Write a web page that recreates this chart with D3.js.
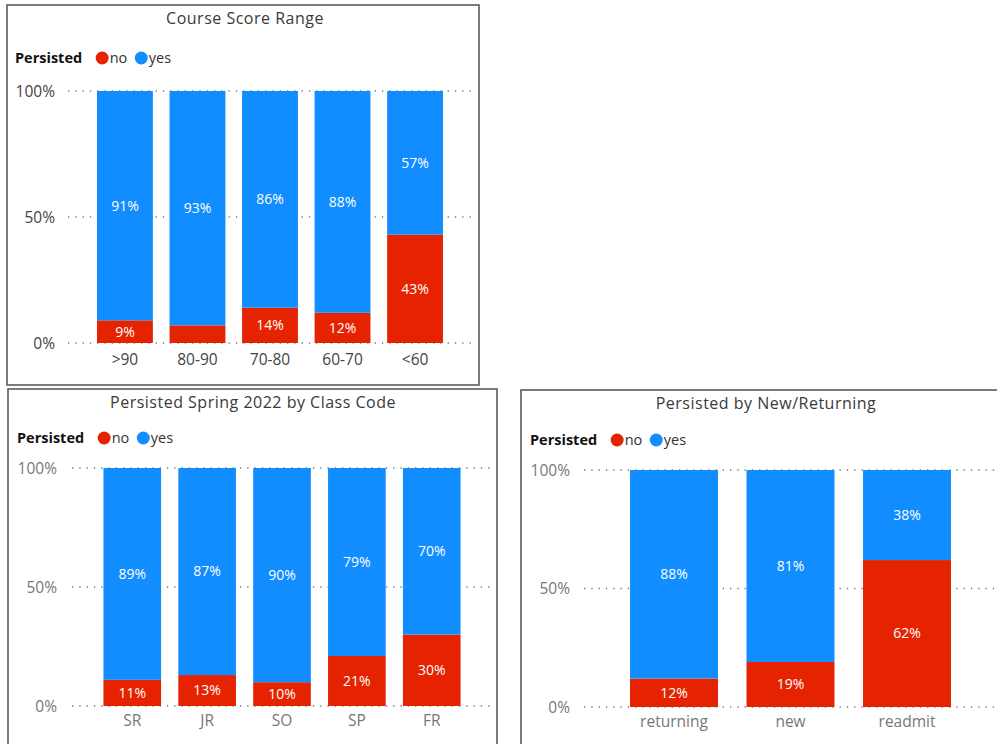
<!DOCTYPE html>
<html>
<head>
<meta charset="utf-8">
<script src="https://cdn.jsdelivr.net/npm/d3@7"></script>
<style>
  html, body { margin: 0; padding: 0; background: #fff; }
  svg { display: block; }
</style>
</head>
<body>
<svg id="chart" width="997" height="744"></svg>
<script>
// ---- data ----
const scoreCategories = [">90", "80-90", "70-80", "60-70", "<60"];
const scoreNo  = [9, 7, 14, 12, 43];
const scoreYes = [91, 93, 86, 88, 57];

const classCategories = ["SR", "JR", "SO", "SP", "FR"];
const classNo  = [11, 13, 10, 21, 30];
const classYes = [89, 87, 90, 79, 70];

const statusCategories = ["returning", "new", "readmit"];
const statusNo  = [12, 19, 62];
const statusYes = [88, 81, 38];

const yTicks = [0, 50, 100];
const seriesNames = ["no", "yes"];
const seriesColors = { no: "#E62300", yes: "#118DFF" };

const svg = d3.select("#chart");
const FONT = "'Open Sans', 'Noto Sans', sans-serif";

// One 100% stacked column visual
function drawPanel(opt) {
  const g = svg.append("g");

  // frame
  g.append("rect")
    .attr("x", opt.box[0]).attr("y", opt.box[1])
    .attr("width", opt.box[2]).attr("height", opt.box[3])
    .attr("fill", "#fff").attr("stroke", "#5a5a5a").attr("stroke-width", 1.6);

  // title
  g.append("text")
    .attr("x", opt.titleX).attr("y", opt.titleY)
    .attr("text-anchor", "middle")
    .attr("font-family", FONT)
    .attr("font-size", 16).attr("letter-spacing", 0.5).attr("fill", "#3a3a3a")
    .text(opt.title);

  // legend
  const lg = g.append("g").attr("transform", `translate(${opt.legendX},${opt.legendY})`);
  const lt = lg.append("text")
    .attr("x", 0).attr("y", 5)
    .attr("font-family", FONT).attr("font-weight", 700)
    .attr("font-size", 14.5).attr("fill", "#111")
    .text("Persisted");
  let lx = lt.node().getComputedTextLength() + 20;
  seriesNames.forEach(name => {
    lg.append("circle").attr("cx", lx).attr("cy", 0).attr("r", 6.5)
      .attr("fill", seriesColors[name]);
    const t = lg.append("text")
      .attr("x", lx + 7.5).attr("y", 5)
      .attr("font-family", FONT).attr("font-size", 14.5).attr("fill", "#333")
      .text(name);
    lx += 7.5 + t.node().getComputedTextLength() + 14;
  });

  // scales
  const x = d3.scaleBand()
    .domain(opt.categories)
    .range([opt.gridX0, opt.gridX1])
    .paddingInner(opt.padInner)
    .paddingOuter(opt.padOuter);
  const y = d3.scaleLinear().domain([0, 100]).range([opt.yBottom, opt.yTop]);

  // dotted gridlines
  g.append("g").selectAll("line").data(yTicks).join("line")
    .attr("x1", opt.gridX0).attr("x2", opt.gridX1)
    .attr("y1", d => y(d)).attr("y2", d => y(d))
    .attr("stroke", "#777").attr("stroke-width", 1.3)
    .attr("stroke-dasharray", "1.3,6");

  // y axis labels
  const yAxis = d3.axisLeft(y).tickValues(yTicks).tickSize(0).tickFormat(d => d + "%");
  const ya = g.append("g").attr("transform", `translate(${opt.yLabelX},0)`).call(yAxis);
  ya.select(".domain").remove();
  ya.selectAll("text")
    .attr("x", 0).attr("dy", "0.35em")
    .attr("font-family", FONT).attr("font-size", 15.5).attr("fill", opt.axisColor);

  // x axis labels
  const xAxis = d3.axisBottom(x).tickSize(0);
  const xa = g.append("g").attr("transform", `translate(0,${opt.yBottom})`).call(xAxis);
  xa.select(".domain").remove();
  xa.selectAll("text")
    .attr("y", opt.xLabelDy)
    .attr("font-family", FONT).attr("font-size", 15.5).attr("fill", opt.axisColor);

  // stacked segments
  const rows = opt.categories.map((c, i) => ({ cat: c, no: opt.no[i], yes: opt.yes[i] }));
  const stack = d3.stack().keys(seriesNames)(rows);

  stack.forEach(layer => {
    const key = layer.key;
    g.append("g").selectAll("rect").data(layer).join("rect")
      .attr("x", d => x(d.data.cat))
      .attr("width", x.bandwidth())
      .attr("y", d => y(d[1]))
      .attr("height", d => y(d[0]) - y(d[1]))
      .attr("fill", seriesColors[key]);

    g.append("g").selectAll("text")
      .data(layer.filter(d => y(d[0]) - y(d[1]) >= 20))
      .join("text")
      .attr("x", d => x(d.data.cat) + x.bandwidth() / 2)
      .attr("y", d => (y(d[0]) + y(d[1])) / 2)
      .attr("dy", "0.35em")
      .attr("text-anchor", "middle")
      .attr("font-family", FONT).attr("font-size", 14).attr("fill", "#fff")
      .text(d => d.data[key] + "%");
  });
}

drawPanel({
  title: "Course Score Range",
  categories: scoreCategories, no: scoreNo, yes: scoreYes,
  box: [7, 5, 472, 380], titleX: 245, titleY: 24,
  legendX: 15, legendY: 58,
  yTop: 91, yBottom: 343, yLabelX: 55,
  gridX0: 68, gridX1: 472, padInner: 0.23, padOuter: 0.4,
  axisColor: "#444", xLabelDy: 11
});

drawPanel({
  title: "Persisted Spring 2022 by Class Code",
  categories: classCategories, no: classNo, yes: classYes,
  box: [8, 389, 489, 370], titleX: 253, titleY: 408,
  legendX: 17, legendY: 438,
  yTop: 468, yBottom: 706, yLabelX: 57,
  gridX0: 72, gridX1: 492, padInner: 0.23, padOuter: 0.42,
  axisColor: "#777", xLabelDy: 9
});

drawPanel({
  title: "Persisted by New/Returning",
  categories: statusCategories, no: statusNo, yes: statusYes,
  box: [521, 390, 490, 370], titleX: 766, titleY: 409,
  legendX: 530, legendY: 440,
  yTop: 470, yBottom: 707, yLabelX: 570,
  gridX0: 584, gridX1: 997, padInner: 0.245, padOuter: 0.395,
  axisColor: "#777", xLabelDy: 9
});
</script>
</body>
</html>
